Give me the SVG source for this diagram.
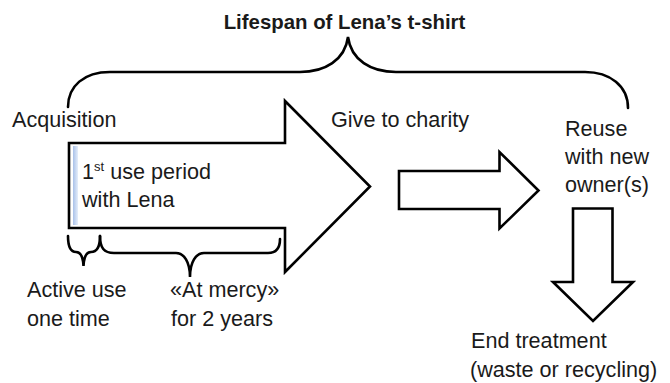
<svg xmlns="http://www.w3.org/2000/svg" width="670" height="383" viewBox="0 0 670 383">
<style>
text{font-family:"Liberation Sans",Arial,sans-serif;font-size:21.6px;fill:#1a1a1a}
.title{font-weight:bold;font-size:20.4px}
.shape{fill:#fff;stroke:#000;stroke-width:2.6;stroke-linejoin:miter}
.brace{fill:none;stroke:#000;stroke-width:2.6;stroke-linecap:round}
</style>
<defs>
<linearGradient id="bar" x1="0" y1="0" x2="1" y2="0">
<stop offset="0" stop-color="#a9c1e9"/>
<stop offset="1" stop-color="#e6eefa"/>
</linearGradient>
</defs>
<rect width="670" height="383" fill="#fff"/>
<g id="title"><text class="title" x="344.5" y="29" text-anchor="middle">Lifespan of Lena’s t-shirt</text></g>
<g id="lifespan-brace"><path class="brace" d="M68,107 C68,86 84,72 110,72 H300 C325,72 345,60 348,37 C351,60 371,72 396,72 H585 C610,72 628,86 628,108"/></g>
<g id="acquisition"><text x="12" y="127">Acquisition</text></g>
<g id="first-use">
<path class="shape" d="M69,143 H285 V101 L370,186.5 L285,272 V228 H69 Z"/>
<rect x="73" y="146" width="5" height="79" fill="url(#bar)"/>
<text x="82" y="179">1<tspan font-size="13" dy="-8">st</tspan><tspan dy="8"> use period</tspan></text>
<text x="82" y="207">with Lena</text>
</g>
<g id="give-to-charity"><text x="331" y="127">Give to charity</text></g>
<g id="reuse"><text x="565" y="136">Reuse</text><text x="565" y="164">with new</text><text x="565" y="192">owner(s)</text></g>
<g id="end-treatment"><text x="471" y="348">End treatment</text><text x="470" y="377">(waste or recycling)</text></g>
<g id="active-use">
<path class="brace" d="M68,236 C68,248 71,252 76,252 C80,252 83,256 83.5,266 C84,256 87,252 91,252 C96,252 100,248 100,236"/>
<text x="27" y="297">Active use</text><text x="27" y="326">one time</text>
</g>
<g id="at-mercy">
<path class="brace" d="M100,236 C100,248 104,253 114,253 H176 C184,253 190,262 190,277 C190,262 196,253 204,253 H268 C276,253 280,248 280,239"/>
<text x="170" y="297">«At mercy»</text><text x="171" y="326">for 2 years</text>
</g>
<g id="connectors">
<path id="charity-arrow" class="shape" d="M399,171 H499.5 V152 L538.5,190.5 L499.5,228.5 V209 H399 Z"/>
<path id="end-arrow" class="shape" d="M573,208.5 H612.5 V282 H633 L593,321 L553,282 H573 Z"/>
</g>
</svg>
